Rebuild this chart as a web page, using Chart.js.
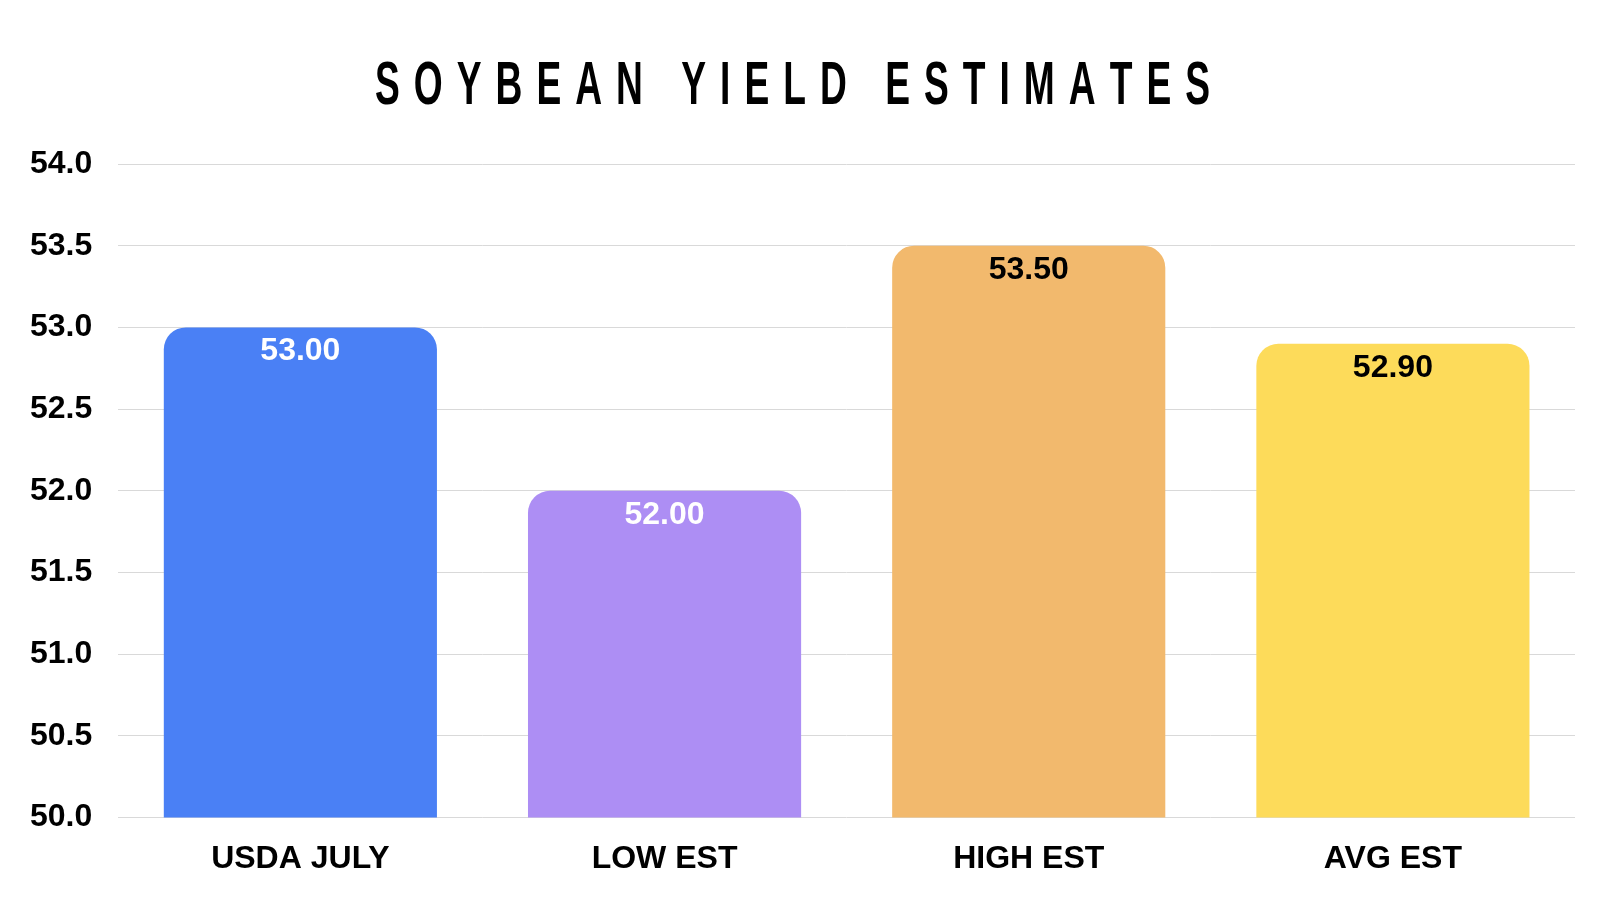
<!DOCTYPE html>
<html><head><meta charset="utf-8">
<script src="https://cdn.jsdelivr.net/npm/chart.js@4"></script>
<style>html,body{margin:0;background:#fff}#w{width:1600px;height:900px}</style>
</head><body><div id="w"><canvas id="c"></canvas></div>
<script>
const categories=["USDA JULY","LOW EST","HIGH EST","AVG EST"];
const values=[53.00,52.00,53.50,52.90];
const colors=["#4a80f5","#ad8ef4","#f2b96d","#fddb5a"];
const labelColors=["#ffffff","#ffffff","#000000","#000000"];
const titleText="SOYBEAN YIELD ESTIMATES";
const plug={id:'p',afterDatasetsDraw(ch){
 const ctx=ch.ctx;ctx.save();
 const m=ch.getDatasetMeta(0);
 ctx.font='bold 32px "Liberation Sans",Arial';ctx.textAlign='center';ctx.textBaseline='top';
 m.data.forEach((b,i)=>{ctx.fillStyle=labelColors[i];ctx.fillText(values[i].toFixed(2),b.x,b.y+8);});
 // title: condensed glyphs spread across 375..1210
 ctx.font='bold 62px "Liberation Sans",Arial';ctx.fillStyle='#000';ctx.textBaseline='alphabetic';ctx.textAlign='left';
 const sx=0.6, chars=[...titleText];
 const widths=chars.map(c=>ctx.measureText(c).width*sx);
 const total=widths.reduce((a,b)=>a+b,0);
 const gap=(835-total)/(chars.length-1);
 let x=375;
 chars.forEach((c,i)=>{ctx.save();ctx.translate(x,104);ctx.scale(sx,1);ctx.fillText(c,0,0);ctx.restore();x+=widths[i]+gap;});
 ctx.restore();}};
new Chart(document.getElementById('c'),{type:'bar',
 data:{labels:categories,datasets:[{data:values,backgroundColor:colors,borderRadius:{topLeft:22,topRight:22},borderSkipped:'bottom',barPercentage:0.75,categoryPercentage:1}]},
 options:{responsive:true,maintainAspectRatio:false,animation:false,
  layout:{padding:{top:164,right:25,left:4,bottom:8}},
  plugins:{legend:{display:false},tooltip:{enabled:false}},
  scales:{y:{min:50,max:54,ticks:{stepSize:0.5,color:'#000',padding:26,font:{size:32,weight:'bold',family:'"Liberation Sans",Arial'},callback:v=>v.toFixed(1)},grid:{color:'#d9d9d9',drawTicks:false},border:{display:false}},
   x:{ticks:{color:'#000',padding:14,font:{size:32,weight:'bold',family:'"Liberation Sans",Arial'}},grid:{display:false},border:{display:false}}}}
 ,plugins:[plug]});
</script></body></html>
